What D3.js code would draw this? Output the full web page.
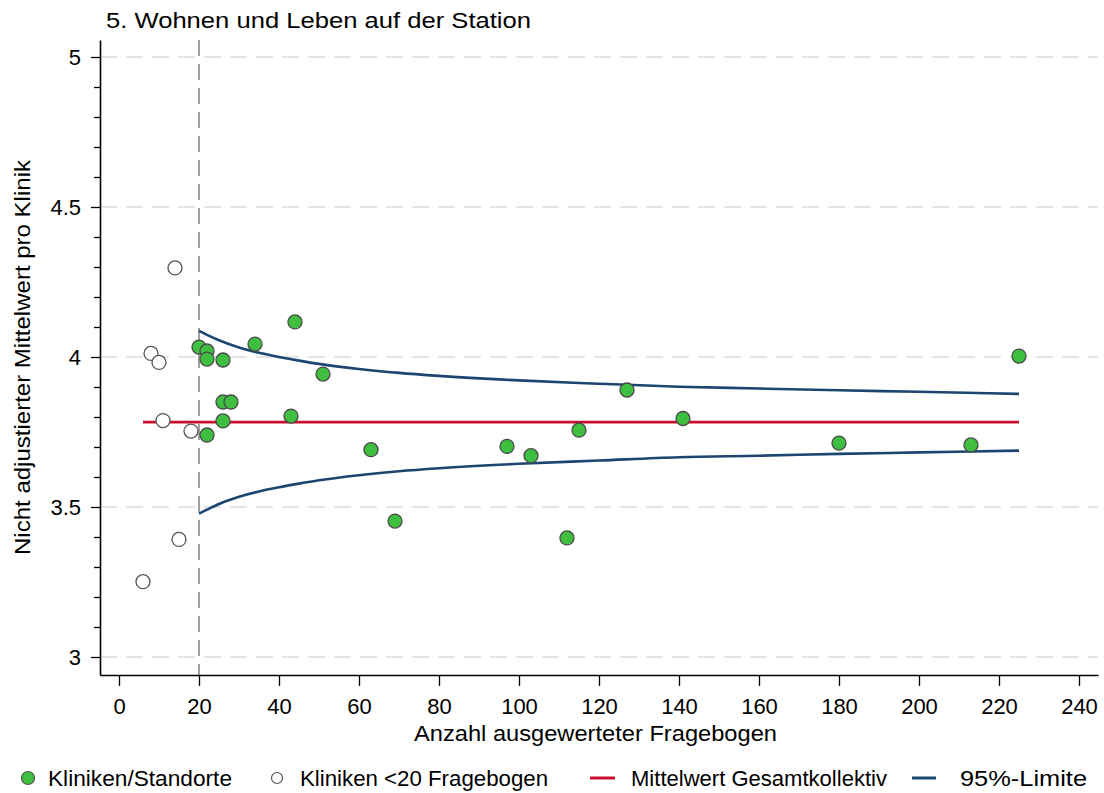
<!DOCTYPE html>
<html>
<head>
<meta charset="utf-8">
<script src="https://cdn.jsdelivr.net/npm/d3@7"></script>
<style>
  body { margin: 0; background: #fff; }
  svg { display: block; font-family: "Liberation Sans", Arial, sans-serif; }
</style>
</head>
<body>
<svg id="chart" width="1104" height="793"></svg>
<script>
// ---- Data ----
const title = "5. Wohnen und Leben auf der Station";
const xTitle = "Anzahl ausgewerteter Fragebogen";
const yTitle = "Nicht adjustierter Mittelwert pro Klinik";

// Clinics with >= 20 questionnaires
const clinicN    = [20, 22, 22, 26, 26, 28, 26, 22, 34, 44, 43, 51, 63, 69, 97, 103, 112, 115, 127, 141, 180, 213, 225];
const clinicMean = [4.033, 4.02, 3.993, 3.99, 3.85, 3.85, 3.787, 3.74, 4.043, 4.117, 3.803, 3.943, 3.691, 3.453, 3.702, 3.671, 3.397, 3.756, 3.89, 3.795, 3.713, 3.707, 4.003];

// Clinics with < 20 questionnaires
const smallN    = [14, 8, 10, 11, 18, 15, 6];
const smallMean = [4.297, 4.012, 3.982, 3.788, 3.753, 3.392, 3.251];

// Overall mean line
const meanX = [6, 225];
const meanValue = 3.783;

// 95% limits
const limitN     = [20, 22, 25, 30, 35, 40, 45, 50, 60, 70, 80, 100, 120, 140, 160, 180, 200, 225];
const limitUpper = [4.087, 4.074, 4.056, 4.032, 4.014, 4.000, 3.988, 3.977, 3.960, 3.947, 3.937, 3.922, 3.911, 3.901, 3.895, 3.889, 3.884, 3.877];
const limitLower = [3.478, 3.491, 3.510, 3.534, 3.552, 3.566, 3.578, 3.589, 3.606, 3.619, 3.629, 3.644, 3.655, 3.666, 3.671, 3.677, 3.682, 3.688];

const minN = 20;

const xTicks = [0, 20, 40, 60, 80, 100, 120, 140, 160, 180, 200, 220, 240];
const yTicks = [3, 3.5, 4, 4.5, 5];
const yMinorTicks = [3.1, 3.2, 3.3, 3.4, 3.6, 3.7, 3.8, 3.9, 4.1, 4.2, 4.3, 4.4, 4.6, 4.7, 4.8, 4.9];

const legendLabels = ["Kliniken/Standorte", "Kliniken <20 Fragebogen", "Mittelwert Gesamtkollektiv", "95%-Limite"];

// ---- Drawing ----
const FONT = "'Liberation Sans', Arial, sans-serif";
const svg = d3.select("#chart");
const x = d3.scaleLinear().domain([-4.75, 244.75]).range([100, 1098]);
const y = d3.scaleLinear().domain([2.94, 5.0567]).range([675, 40]);

const green = "#3fbf3f", red = "#c8102e", blue = "#1a4670";

// grid
svg.append("g").selectAll("line").data(yTicks).join("line")
  .attr("x1", 100).attr("x2", 1098)
  .attr("y1", d => y(d)).attr("y2", d => y(d))
  .attr("stroke", "#dcdcdc").attr("stroke-width", 1.5)
  .attr("stroke-dasharray", "17,9");

// vertical reference at 20
svg.append("line")
  .attr("x1", x(minN)).attr("x2", x(minN))
  .attr("y1", y.range()[1]).attr("y2", y.range()[0])
  .attr("stroke", "#a0a0a0").attr("stroke-width", 2)
  .attr("stroke-dasharray", "16,8");

// axes
const yAxis = svg.append("g").attr("transform", "translate(100,0)")
  .call(d3.axisLeft(y).tickValues(yTicks).tickSize(9).tickSizeOuter(0).tickPadding(10).tickFormat(d3.format("")));
const yMinor = svg.append("g").attr("transform", "translate(100,0)")
  .call(d3.axisLeft(y).tickValues(yMinorTicks).tickSize(6).tickSizeOuter(0).tickFormat(""));
yMinor.select(".domain").remove();
const xAxis = svg.append("g").attr("transform", "translate(0,675)")
  .call(d3.axisBottom(x).tickValues(xTicks).tickSize(11).tickSizeOuter(0).tickPadding(12));

[yAxis, yMinor, xAxis].forEach(g => {
  g.selectAll(".domain").attr("stroke", "#000").attr("stroke-width", 1.6);
  g.selectAll(".tick line").attr("stroke", "#000").attr("stroke-width", 1.3);
  g.selectAll("text").attr("font-size", 22).attr("fill", "#000").attr("font-family", FONT);
});

// limit lines
const line = d3.line().x(d => x(d[0])).y(d => y(d[1])).curve(d3.curveMonotoneX);
svg.append("path").datum(limitN.map((n, i) => [n, limitUpper[i]]))
  .attr("d", line).attr("fill", "none").attr("stroke", blue).attr("stroke-width", 2.6);
svg.append("path").datum(limitN.map((n, i) => [n, limitLower[i]]))
  .attr("d", line).attr("fill", "none").attr("stroke", blue).attr("stroke-width", 2.6);

// mean line
svg.append("line")
  .attr("x1", x(meanX[0])).attr("x2", x(meanX[1]))
  .attr("y1", y(meanValue)).attr("y2", y(meanValue))
  .attr("stroke", red).attr("stroke-width", 2.6);

// points
svg.append("g").selectAll("circle").data(smallN.map((n, i) => [n, smallMean[i]])).join("circle")
  .attr("cx", d => x(d[0])).attr("cy", d => y(d[1])).attr("r", 7)
  .attr("fill", "#fff").attr("stroke", "#555").attr("stroke-width", 1.3);
svg.append("g").selectAll("circle").data(clinicN.map((n, i) => [n, clinicMean[i]])).join("circle")
  .attr("cx", d => x(d[0])).attr("cy", d => y(d[1])).attr("r", 7)
  .attr("fill", green).attr("stroke", "#4a4a4a").attr("stroke-width", 1.3);

// titles
svg.append("text").attr("x", 106).attr("y", 28).attr("font-size", 22)
  .attr("textLength", 425).attr("lengthAdjust", "spacingAndGlyphs").text(title);
svg.append("text").attr("x", 414).attr("y", 741).attr("font-size", 22)
  .attr("textLength", 363).attr("lengthAdjust", "spacingAndGlyphs").text(xTitle);
svg.append("text").attr("transform", "translate(30,555) rotate(-90)")
  .attr("font-size", 22).attr("textLength", 395).attr("lengthAdjust", "spacingAndGlyphs").text(yTitle);

// legend
const lg = svg.append("g").attr("font-size", 22);
const legY = 778;
// item 1: green dot
lg.append("circle").attr("cx", 28).attr("cy", legY).attr("r", 6.5)
  .attr("fill", green).attr("stroke", "#555").attr("stroke-width", 1.2);
lg.append("text").attr("x", 48).attr("y", legY + 8).attr("textLength", 184).attr("lengthAdjust", "spacingAndGlyphs").text(legendLabels[0]);
// item 2: open dot
lg.append("circle").attr("cx", 277).attr("cy", legY).attr("r", 5.5)
  .attr("fill", "#fff").attr("stroke", "#555").attr("stroke-width", 1.2);
lg.append("text").attr("x", 300).attr("y", legY + 8).attr("textLength", 248).attr("lengthAdjust", "spacingAndGlyphs").text(legendLabels[1]);
// item 3: red line
lg.append("line").attr("x1", 590).attr("x2", 615).attr("y1", legY).attr("y2", legY)
  .attr("stroke", red).attr("stroke-width", 3);
lg.append("text").attr("x", 631).attr("y", legY + 8).attr("textLength", 256).attr("lengthAdjust", "spacingAndGlyphs").text(legendLabels[2]);
// item 4: blue line
lg.append("line").attr("x1", 912).attr("x2", 936).attr("y1", legY).attr("y2", legY)
  .attr("stroke", blue).attr("stroke-width", 3);
lg.append("text").attr("x", 960).attr("y", legY + 8).attr("textLength", 127).attr("lengthAdjust", "spacingAndGlyphs").text(legendLabels[3]);
</script>
</body>
</html>
